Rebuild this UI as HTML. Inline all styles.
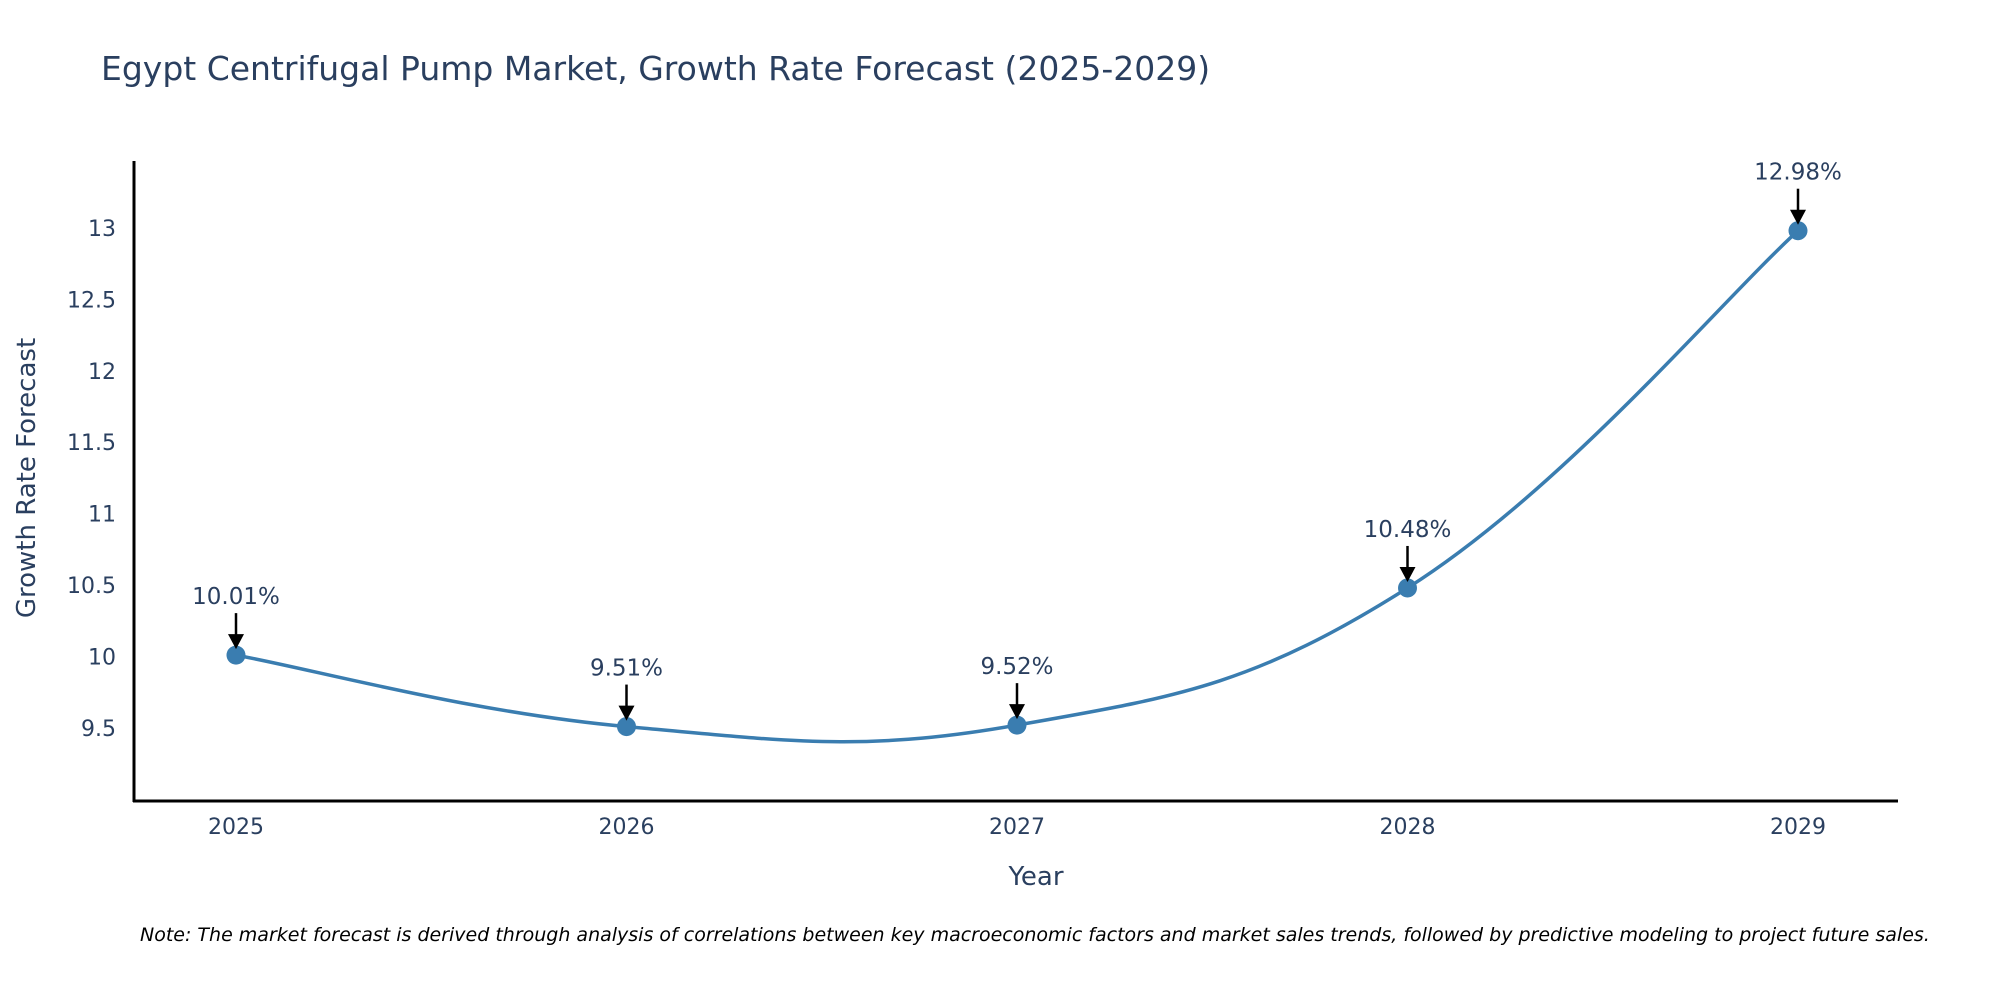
<!DOCTYPE html>
<html><head><meta charset="utf-8"><style>
html,body{margin:0;padding:0;background:#fff;}
svg{display:block;font-family:"DejaVu Sans","Liberation Sans",sans-serif;}
</style></head><body>
<svg id="chart" width="2000" height="1000" viewBox="0 0 2000 1000">
<text x="101" y="80" font-size="33" fill="#2a3f5f">Egypt Centrifugal Pump Market, Growth Rate Forecast (2025-2029)</text>
<g id="yticks"></g>
<g id="xticks"></g>
<line x1="134" y1="161" x2="134" y2="802" stroke="#000" stroke-width="3"/>
<line x1="133" y1="801" x2="1898" y2="801" stroke="#000" stroke-width="3"/>
<path id="series" fill="none" stroke="#3a7db0" stroke-width="3.5"/>
<g id="marks"></g>
<text x="1036" y="885" font-size="26" fill="#2a3f5f" text-anchor="middle">Year</text>
<text transform="translate(35,478) rotate(-90)" font-size="26" fill="#2a3f5f" text-anchor="middle">Growth Rate Forecast</text>
<text x="140" y="941" font-size="19" font-style="italic" fill="#000">Note: The market forecast is derived through analysis of correlations between key macroeconomic factors and market sales trends, followed by predictive modeling to project future sales.</text>
</svg>
<script>
const categories = [2025, 2026, 2027, 2028, 2029];
const values = [10.01, 9.51, 9.52, 10.48, 12.98];
const valueLabels = ["10.01%", "9.51%", "9.52%", "10.48%", "12.98%"];
const yTicks = [9.5, 10, 10.5, 11, 11.5, 12, 12.5, 13];
const yTickLabels = ["9.5", "10", "10.5", "11", "11.5", "12", "12.5", "13"];

const NS = "http://www.w3.org/2000/svg";
function xScale(c){ return 236 + (c - 2025) * 390.5; }
function yScale(v){ return 728 - (v - 9.5) * 142.9; }
function mk(tag, attrs, parent){ const e = document.createElementNS(NS, tag); for (const k in attrs) e.setAttribute(k, attrs[k]); parent.appendChild(e); return e; }

const yt = document.getElementById('yticks');
yTicks.forEach((t, i) => {
  const el = mk('text', {x: 116, y: yScale(t) + 8, 'font-size': 22, fill: '#2a3f5f', 'text-anchor': 'end'}, yt);
  el.textContent = yTickLabels[i];
  
  
});
const xt = document.getElementById('xticks');
categories.forEach(c => {
  const el = mk('text', {x: xScale(c), y: 834, 'font-size': 22, fill: '#2a3f5f', 'text-anchor': 'middle'}, xt);
  el.textContent = String(c);
  
  
});

const pts = categories.map((c, i) => [xScale(c), yScale(values[i])]);
let d = `M${pts[0][0]},${pts[0][1]}`;
const s = 1/5;
for (let i = 0; i < pts.length - 1; i++) {
  const p0 = pts[Math.max(i-1,0)], p1 = pts[i], p2 = pts[i+1], p3 = pts[Math.min(i+2, pts.length-1)];
  const c1 = [p1[0] + (p2[0]-p0[0])*s, p1[1] + (p2[1]-p0[1])*s];
  const c2 = [p2[0] - (p3[0]-p1[0])*s, p2[1] - (p3[1]-p1[1])*s];
  d += ` C${c1[0]},${c1[1]} ${c2[0]},${c2[1]} ${p2[0]},${p2[1]}`;
}
document.getElementById('series').setAttribute('d', d);

const mg = document.getElementById('marks');
pts.forEach((p, i) => {
  const c = mk('circle', {cx: p[0], cy: p[1], r: 9.5, fill: '#3a7db0'}, mg);
  
  
  const ln = mk('line', {x1: p[0], y1: p[1] - 42, x2: p[0], y2: p[1] - 20, stroke: '#000', 'stroke-width': 2.5}, mg);
  
  
  const hd = mk('polygon', {points: `${p[0]-8},${p[1]-21} ${p[0]+8},${p[1]-21} ${p[0]},${p[1]-6}`, fill: '#000'}, mg);
  
  
  const t = mk('text', {x: p[0], y: p[1] - 51, 'font-size': 23, fill: '#2a3f5f', 'text-anchor': 'middle'}, mg);
  t.textContent = valueLabels[i];
  
  
});
</script>
</body></html>
